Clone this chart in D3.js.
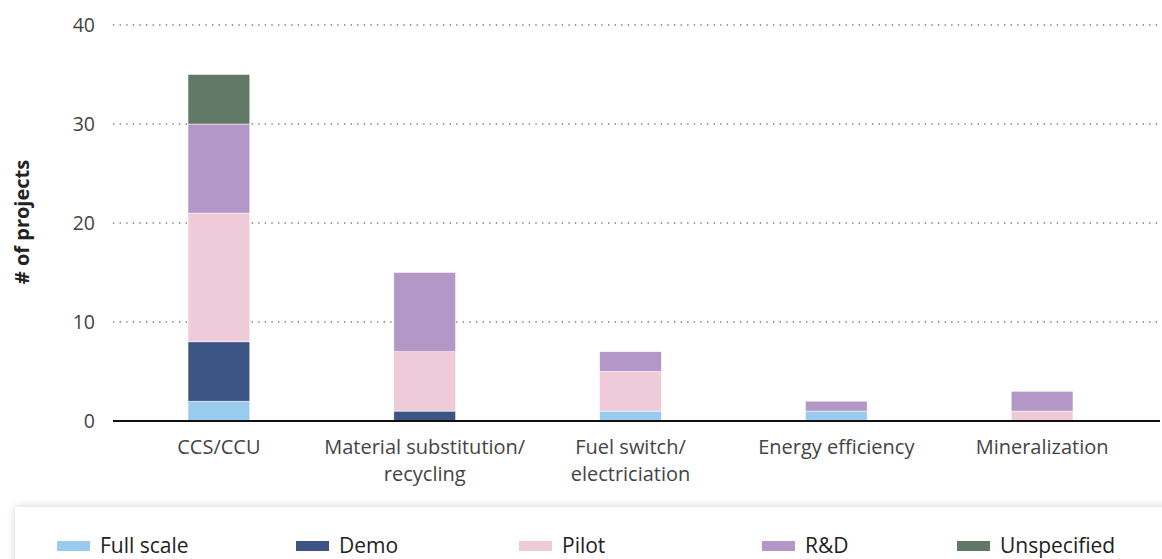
<!DOCTYPE html>
<html>
<head>
<meta charset="utf-8">
<script src="https://cdn.jsdelivr.net/npm/d3@7"></script>
<style>
  body { margin: 0; background: #fff; }
  text { font-family: "Open Sans", "Noto Sans", sans-serif; }
</style>
</head>
<body>
<svg width="1162" height="559"></svg>
<script>
// data
var categories = ["CCS/CCU", "Material substitution/\nrecycling", "Fuel switch/\nelectriciation", "Energy efficiency", "Mineralization"];
var stages = ["Full scale", "Demo", "Pilot", "R&D", "Unspecified"];
var fullScale = [2, 0, 1, 1, 0];
var demo = [6, 1, 0, 0, 0];
var pilot = [13, 6, 4, 0, 1];
var rnd = [9, 8, 2, 1, 2];
var unspecified = [5, 0, 0, 0, 0];
var yTicks = [0, 10, 20, 30, 40];
var colors = ["#99cbef", "#3d5585", "#efcad9", "#b297c7", "#627866"];

function main(){
    var svg = d3.select("svg");
    var left = 113, right = 1160, top = 25, bottom = 421;

    // build rows for stacking
    var seriesVals = [fullScale, demo, pilot, rnd, unspecified];
    var rows = categories.map(function(c, i){
        var r = {cat: c};
        stages.forEach(function(s, j){ r[s] = seriesVals[j][i]; });
        return r;
    });
    var stacked = d3.stack().keys(stages)(rows);

    var xScale = d3.scaleBand().domain(categories).range([116, 1145]).paddingInner(0.7).paddingOuter(0.35);
    var yScale = d3.scaleLinear().domain([0, 40]).range([bottom, top]);
    var color = d3.scaleOrdinal().domain(stages).range(colors);

    // dotted gridlines
    svg.append("g").selectAll("line").data(yTicks.filter(function(d){ return d > 0; }))
        .enter().append("line")
        .attr("x1", left).attr("x2", right)
        .attr("y1", function(d){ return yScale(d); })
        .attr("y2", function(d){ return yScale(d); })
        .attr("stroke", "#777")
        .attr("stroke-width", 1.3)
        .attr("stroke-dasharray", "1.3,5.3");

    // y tick labels
    svg.append("g").selectAll("text").data(yTicks)
        .enter().append("text")
        .attr("x", 95)
        .attr("y", function(d){ return yScale(d); })
        .attr("dy", "0.35em")
        .attr("text-anchor", "end")
        .attr("font-size", "19.5px")
        .attr("fill", "#444")
        .text(function(d){ return d; });

    // y axis title
    svg.append("text")
        .attr("transform", "translate(29," + 222 + ") rotate(-90)")
        .attr("text-anchor", "middle")
        .attr("font-size", "20px")
        .attr("font-weight", "bold")
        .attr("fill", "#222")
        .text("# of projects");

    // bars
    svg.append("g").selectAll("g").data(stacked)
        .enter().append("g")
        .attr("fill", function(d){ return color(d.key); })
        .selectAll("rect").data(function(d){ return d; })
        .enter().append("rect")
        .attr("x", function(d){ return xScale(d.data.cat); })
        .attr("width", xScale.bandwidth())
        .attr("y", function(d){ return yScale(d[1]); })
        .attr("height", function(d){ return yScale(d[0]) - yScale(d[1]); })
        .attr("stroke", "#fff")
        .attr("stroke-width", 0.6)
        .attr("stroke-opacity", function(d){ return d[1] > d[0] ? 0.8 : 0; });

    // baseline
    svg.append("line")
        .attr("x1", left).attr("x2", right)
        .attr("y1", bottom).attr("y2", bottom)
        .attr("stroke", "#111").attr("stroke-width", 1.8);

    // category labels
    var labels = svg.append("g").selectAll("text").data(categories)
        .enter().append("text")
        .attr("text-anchor", "middle")
        .attr("font-size", "20px")
        .attr("fill", "#444")
        .attr("transform", function(d){ return "translate(" + (xScale(d) + xScale.bandwidth() / 2) + ",454)"; });
    labels.selectAll("tspan").data(function(d){ return d.split("\n"); })
        .enter().append("tspan")
        .attr("x", 0)
        .attr("dy", function(d, i){ return i ? 27 : 0; })
        .text(function(d){ return d; });

    // legend box with soft shadow
    var defs = svg.append("defs");
    var f = defs.append("filter").attr("id", "shadow").attr("x", "-5%").attr("y", "-50%").attr("width", "110%").attr("height", "200%");
    f.append("feGaussianBlur").attr("in", "SourceAlpha").attr("stdDeviation", 5);
    f.append("feOffset").attr("dx", 0).attr("dy", 0).attr("result", "b");
    f.append("feComponentTransfer").append("feFuncA").attr("type", "linear").attr("slope", 0.18);
    var m = f.append("feMerge");
    m.append("feMergeNode");
    m.append("feMergeNode").attr("in", "SourceGraphic");
    svg.append("rect")
        .attr("x", 15).attr("y", 507).attr("width", 1160).attr("height", 80)
        .attr("fill", "#fff")
        .attr("filter", "url(#shadow)");

    var legendX = [57, 296, 519, 762, 957];
    var legend = svg.append("g").selectAll("g").data(stages)
        .enter().append("g")
        .attr("transform", function(d, i){ return "translate(" + legendX[i] + ",541)"; });
    legend.append("rect")
        .attr("width", 33).attr("height", 10)
        .attr("fill", function(d){ return color(d); });
    legend.append("text")
        .attr("x", 43).attr("y", 5)
        .attr("dy", "0.35em")
        .attr("font-size", "21px")
        .attr("fill", "#222")
        .text(function(d){ return d; });
}
main();
</script>
</body>
</html>
